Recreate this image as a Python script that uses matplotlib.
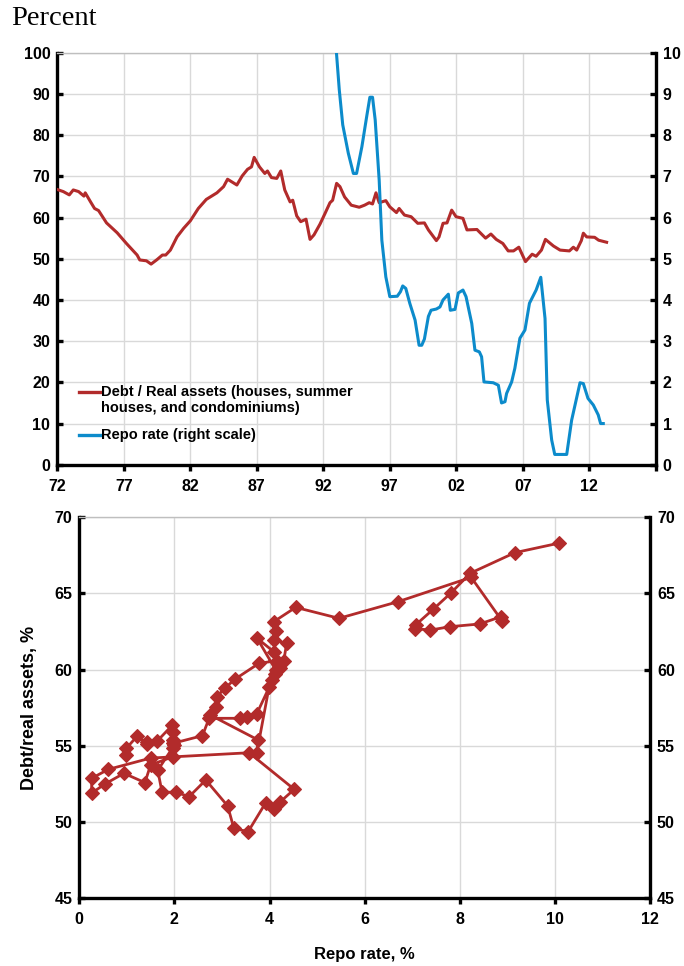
#!/usr/bin/env python3
"""Debt / real assets vs repo rate: time series (top) and phase plot (bottom)."""
import matplotlib
matplotlib.use("Agg")
import matplotlib.pyplot as plt
from matplotlib.lines import Line2D

plt.rcParams["font.family"] = ["Liberation Sans", "DejaVu Sans"]
plt.rcParams["font.weight"] = "bold"
plt.rcParams["font.size"] = 11.5

RED = "#B22B2B"
BLUE = "#0C8BCB"
GRID = "#D9D9D9"

# --- top panel: debt / real assets (left scale), breakpoints
debt_years = [1972.0, 1972.45, 1972.9, 1973.2, 1973.6, 1974.0, 1974.1, 1974.5, 1974.8,
              1975.1, 1975.7, 1976.5, 1977.2, 1978.0, 1978.2, 1978.7, 1979.05, 1979.5,
              1979.9, 1980.15, 1980.5, 1981.0, 1981.5, 1982.0, 1982.6, 1983.2, 1984.0,
              1984.5, 1984.8, 1985.5, 1985.9, 1986.3, 1986.6, 1986.8, 1987.2, 1987.6,
              1987.8, 1988.1, 1988.5, 1988.8, 1989.1, 1989.5, 1989.7, 1990.0, 1990.3,
              1990.7, 1991.0, 1991.3, 1991.75, 1992.1, 1992.5, 1992.7, 1993.0, 1993.25,
              1993.6, 1994.1, 1994.7, 1995.1, 1995.45, 1995.7, 1995.96, 1996.2, 1996.4,
              1996.7, 1997.0, 1997.5, 1997.7, 1998.1, 1998.6, 1999.1, 1999.6, 1999.9,
              2000.5, 2000.7, 2001.0, 2001.3, 2001.65, 2001.98, 2002.5, 2002.8, 2003.55,
              2004.2, 2004.6, 2005.0, 2005.5, 2005.9, 2006.3, 2006.7, 2007.2, 2007.7,
              2008.0, 2008.4, 2008.7, 2009.3, 2009.8, 2010.5, 2010.8, 2011.05, 2011.4,
              2011.55, 2011.8, 2012.4, 2012.7, 2013.3]
debt_vals = [66.8, 66.3, 65.5, 66.7, 66.3, 65.2, 66.0, 63.8, 62.2,
             61.7, 58.7, 56.3, 53.7, 50.9, 49.7, 49.5, 48.7, 49.8,
             50.9, 50.9, 52.1, 55.3, 57.4, 59.2, 62.2, 64.4, 66.0,
             67.5, 69.3, 67.9, 70.1, 71.7, 72.3, 74.6, 72.3, 70.7,
             71.3, 69.7, 69.5, 71.3, 66.7, 63.8, 64.2, 60.4, 59.0,
             59.6, 54.7, 55.8, 58.4, 60.8, 63.6, 64.2, 68.3, 67.5,
             65.0, 63.0, 62.5, 63.0, 63.6, 63.3, 66.0, 63.6, 63.8,
             64.1, 62.6, 61.2, 62.2, 60.6, 60.2, 58.6, 58.7, 57.0,
             54.4, 55.3, 58.6, 58.7, 61.8, 60.2, 59.8, 57.0, 57.1,
             55.0, 56.0, 54.7, 53.7, 51.9, 51.9, 52.8, 49.3, 51.1,
             50.6, 52.1, 54.7, 53.1, 52.1, 51.9, 52.8, 52.1, 54.4,
             56.2, 55.3, 55.2, 54.5, 54.0]

# repo rate (right scale)
repo_years = [1992.75, 1993.2, 1993.46, 1993.88, 1994.26, 1994.5, 1994.9, 1995.26,
              1995.5, 1995.7, 1995.9, 1996.2, 1996.4, 1996.7, 1997.0, 1997.56, 1997.8,
              1997.97, 1998.2, 1998.5, 1998.9, 1999.2, 1999.4, 1999.6, 1999.9, 2000.1,
              2000.5, 2000.77, 2001.0, 2001.4, 2001.55, 2001.9, 2002.15, 2002.5, 2002.73,
              2003.16, 2003.4, 2003.73, 2003.9, 2004.08, 2004.78, 2005.16, 2005.4,
              2005.66, 2005.78, 2006.16, 2006.4, 2006.78, 2007.16, 2007.5, 2008.0,
              2008.35, 2008.67, 2008.84, 2009.17, 2009.4, 2010.3, 2010.67, 2011.3,
              2011.55, 2011.9, 2012.3, 2012.67, 2012.85, 2013.05]
repo_vals = [11.0, 9.1, 8.25, 7.56, 7.07, 7.07, 7.72, 8.45,
             8.92, 8.92, 8.37, 6.91, 5.45, 4.56, 4.08, 4.09, 4.2,
             4.34, 4.28, 3.92, 3.51, 2.9, 2.9, 3.05, 3.6, 3.75,
             3.78, 3.83, 4.0, 4.14, 3.75, 3.77, 4.17, 4.24, 4.08,
             3.43, 2.78, 2.74, 2.62, 2.01, 1.99, 1.93, 1.50,
             1.53, 1.73, 2.01, 2.34, 3.07, 3.27, 3.92, 4.24,
             4.55, 3.55, 1.57, 0.6, 0.25, 0.25, 1.08, 1.99,
             1.97, 1.61, 1.45, 1.21, 1.0, 1.0]

top_ticks = [1972, 1977, 1982, 1987, 1992, 1997, 2002, 2007, 2012, 2017]
top_labels = ["72", "77", "82", "87", "92", "97", "02", "07", "12", ""]

# --- bottom panel: quarterly path, repo rate (x) vs debt / real assets (y)
path_repo = [10.08, 9.16, 8.22, 7.82, 7.44, 7.07, 7.05, 7.38, 7.79, 8.42, 8.87, 8.89,
             8.24, 6.70, 5.46, 4.55,
             4.09, 4.13, 4.09, 4.36, 4.30, 4.16, 3.78, 3.27, 3.06, 2.89, 2.87, 2.75,
             3.76, 3.73, 3.99, 4.06, 4.13, 3.74, 4.09, 4.22, 4.12, 3.73, 3.53, 3.38,
             2.73, 2.59,
             1.97, 1.97, 1.97, 2.00, 1.65, 1.74, 2.03, 2.31, 2.66, 3.12, 3.25, 3.55,
             3.92, 4.10, 4.23, 4.52, 3.57, 1.50, 0.61, 0.26, 0.26, 0.54, 0.94, 1.38,
             1.50, 1.97, 1.97, 1.96, 1.64, 1.43, 1.43, 1.22, 0.99, 0.99]
path_debt = [68.30, 67.68, 66.33, 65.05, 63.96, 62.93, 62.70, 62.60, 62.82, 63.00, 63.48, 63.20,
             66.06, 64.46, 63.37, 64.09,
             63.15, 62.56, 61.95, 61.73, 60.59, 60.59, 60.42, 59.37, 58.78, 58.23, 57.53, 57.03,
             55.39, 54.51, 58.85, 59.32, 59.98, 62.06, 61.18, 60.09, 59.70, 57.09, 56.92, 56.81,
             56.81, 55.67,
             55.17, 55.39, 55.93, 55.05, 53.40, 51.96, 51.96, 51.67, 52.76, 51.06, 49.59, 49.37,
             51.27, 50.84, 51.34, 52.15, 54.55, 54.20, 53.46, 52.87, 51.90, 52.50, 53.20, 52.59,
             53.75, 54.29, 54.84, 56.37, 55.32, 55.28, 55.12, 55.65, 54.84, 54.40]


def style_axes(ax, right_ax):
    for side in ("left", "bottom"):
        ax.spines[side].set_linewidth(2.4)
        ax.spines[side].set_color("black")
    ax.spines["right"].set_visible(False)
    ax.spines["top"].set_color("#BFBFBF")
    ax.spines["top"].set_linewidth(1.0)
    right_ax.spines["right"].set_linewidth(2.4)
    right_ax.spines["right"].set_color("black")
    for side in ("left", "top", "bottom"):
        right_ax.spines[side].set_visible(False)
    ax.tick_params(axis="y", direction="in", length=4, width=2.4, pad=5)
    right_ax.tick_params(axis="y", direction="in", length=4, width=2.4, pad=5)
    ax.tick_params(axis="x", direction="out", length=4, width=2.4, pad=6)
    ax.grid(True, color=GRID, linewidth=1.0)
    ax.set_axisbelow(True)


def main():
    fig = plt.figure(figsize=(6.84, 9.66), dpi=100)

    # top: time series
    ax = fig.add_axes([0.0838, 0.5189, 0.875, 0.4265])
    axr = ax.twinx()
    ax.plot(debt_years, debt_vals, color=RED, linewidth=2.2, zorder=3)
    axr.plot(repo_years, repo_vals, color=BLUE, linewidth=2.2, zorder=3)
    ax.set_xlim(1972, 2017)
    ax.set_ylim(0, 100)
    axr.set_ylim(0, 10)
    ax.set_xticks(top_ticks)
    ax.set_xticklabels(top_labels)
    ax.set_yticks(range(0, 101, 10))
    axr.set_yticks(range(0, 11, 1))
    style_axes(ax, axr)

    # legend drawn by hand so the key sits on the first text line
    legend_rows = [(0.1765, RED, ["Debt / Real assets (houses, summer",
                                  "houses, and condominiums)"]),
                   (0.072, BLUE, ["Repo rate (right scale)"])]
    for y, col, lines in legend_rows:
        ax.add_line(Line2D([0.036, 0.0715], [y, y], transform=ax.transAxes,
                           color=col, linewidth=2.4, clip_on=False))
        for k, line in enumerate(lines):
            ax.text(0.073, y - k * 0.039, line, transform=ax.transAxes,
                    fontsize=10.5, fontweight="bold", va="center", ha="left")

    fig.text(0.016, 0.981, "Percent", family="Liberation Serif", fontweight="normal",
             fontsize=20.5, va="center", ha="left")

    # bottom: phase plot
    bx = fig.add_axes([0.1159, 0.0701, 0.8344, 0.3944])
    bxr = bx.twinx()
    bx.plot(path_repo, path_debt, color=RED, linewidth=2.0, marker="D",
            markersize=7.5, markeredgewidth=0.8, markeredgecolor=RED, zorder=3)
    bx.set_xlim(0, 12)
    bx.set_ylim(45, 70)
    bxr.set_ylim(45, 70)
    bx.set_xticks(range(0, 13, 2))
    bx.set_yticks(range(45, 71, 5))
    bxr.set_yticks(range(45, 71, 5))
    style_axes(bx, bxr)
    bx.set_xlabel("Repo rate, %", fontsize=12, fontweight="bold", labelpad=14)
    bx.set_ylabel("Debt/real assets, %", fontsize=13, fontweight="bold", labelpad=12)

    fig.savefig("out.png", dpi=100)
    plt.close(fig)


if __name__ == "__main__":
    main()
